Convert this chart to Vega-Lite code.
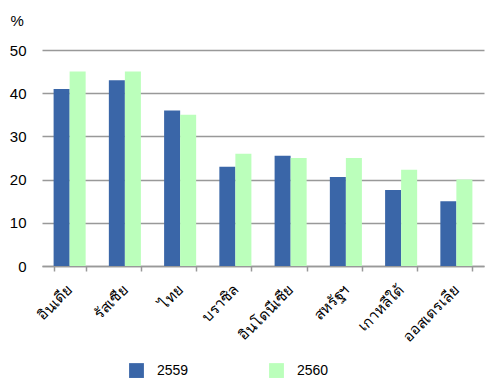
{
  "$schema": "https://vega.github.io/schema/vega-lite/v6.json",
  "autosize": "none",
  "width": 442,
  "height": 216,
  "padding": {"left": 42, "top": 50, "right": 16, "bottom": 124},
  "background": "white",
  "config": {
    "view": {"stroke": null},
    "font": "Liberation Sans"
  },
  "data": {
    "values": [
      {"country": "อินเดีย", "year": "2559", "value": 41},
      {"country": "อินเดีย", "year": "2560", "value": 45},
      {"country": "รัสเซีย", "year": "2559", "value": 43},
      {"country": "รัสเซีย", "year": "2560", "value": 45},
      {"country": "ไทย", "year": "2559", "value": 36},
      {"country": "ไทย", "year": "2560", "value": 35},
      {"country": "บราซิล", "year": "2559", "value": 23},
      {"country": "บราซิล", "year": "2560", "value": 26},
      {"country": "อินโดนีเซีย", "year": "2559", "value": 25.5},
      {"country": "อินโดนีเซีย", "year": "2560", "value": 25},
      {"country": "สหรัฐฯ", "year": "2559", "value": 20.6},
      {"country": "สหรัฐฯ", "year": "2560", "value": 25},
      {"country": "เกาหลีใต้", "year": "2559", "value": 17.6},
      {"country": "เกาหลีใต้", "year": "2560", "value": 22.3},
      {"country": "ออสเตรเลีย", "year": "2559", "value": 15},
      {"country": "ออสเตรเลีย", "year": "2560", "value": 20}
    ]
  },
  "mark": {"type": "bar"},
  "encoding": {
    "x": {
      "field": "country",
      "type": "nominal",
      "sort": null,
      "scale": {"paddingInner": 0.42, "paddingOuter": 0.21},
      "axis": {
        "title": null,
        "labelAngle": -45,
        "labelAlign": "right",
        "labelBaseline": "middle",
        "labelFontSize": 15,
        "labelColor": "#000000",
        "labelPadding": 16,
        "tickBand": "extent",
        "domainColor": "#999999",
        "domainWidth": 1.5,
        "tickColor": "#999999",
        "tickWidth": 1.5,
        "tickSize": 5,
        "grid": false
      }
    },
    "xOffset": {"field": "year", "type": "nominal"},
    "y": {
      "field": "value",
      "type": "quantitative",
      "scale": {"domain": [0, 50]},
      "axis": {
        "title": "%",
        "titleAngle": 0,
        "titleAnchor": "end",
        "titleAlign": "left",
        "titleBaseline": "bottom",
        "titleX": -32,
        "titleY": -22,
        "titleFontSize": 15,
        "titleFontWeight": "normal",
        "titleColor": "#000000",
        "values": [0, 10, 20, 30, 40, 50],
        "labelFontSize": 15,
        "labelColor": "#000000",
        "labelPadding": 16,
        "domain": false,
        "ticks": false,
        "gridColor": "#999999",
        "gridWidth": 1.5
      }
    },
    "color": {
      "field": "year",
      "type": "nominal",
      "scale": {"domain": ["2559", "2560"], "range": ["#3a66a8", "#bbffbb"]},
      "legend": {
        "title": null,
        "orient": "none",
        "direction": "horizontal",
        "legendX": 87,
        "legendY": 313,
        "symbolType": "square",
        "symbolSize": 220,
        "symbolStrokeWidth": 0,
        "labelFontSize": 14,
        "labelColor": "#000000",
        "labelOffset": 13,
        "columnPadding": 80
      }
    }
  }
}
